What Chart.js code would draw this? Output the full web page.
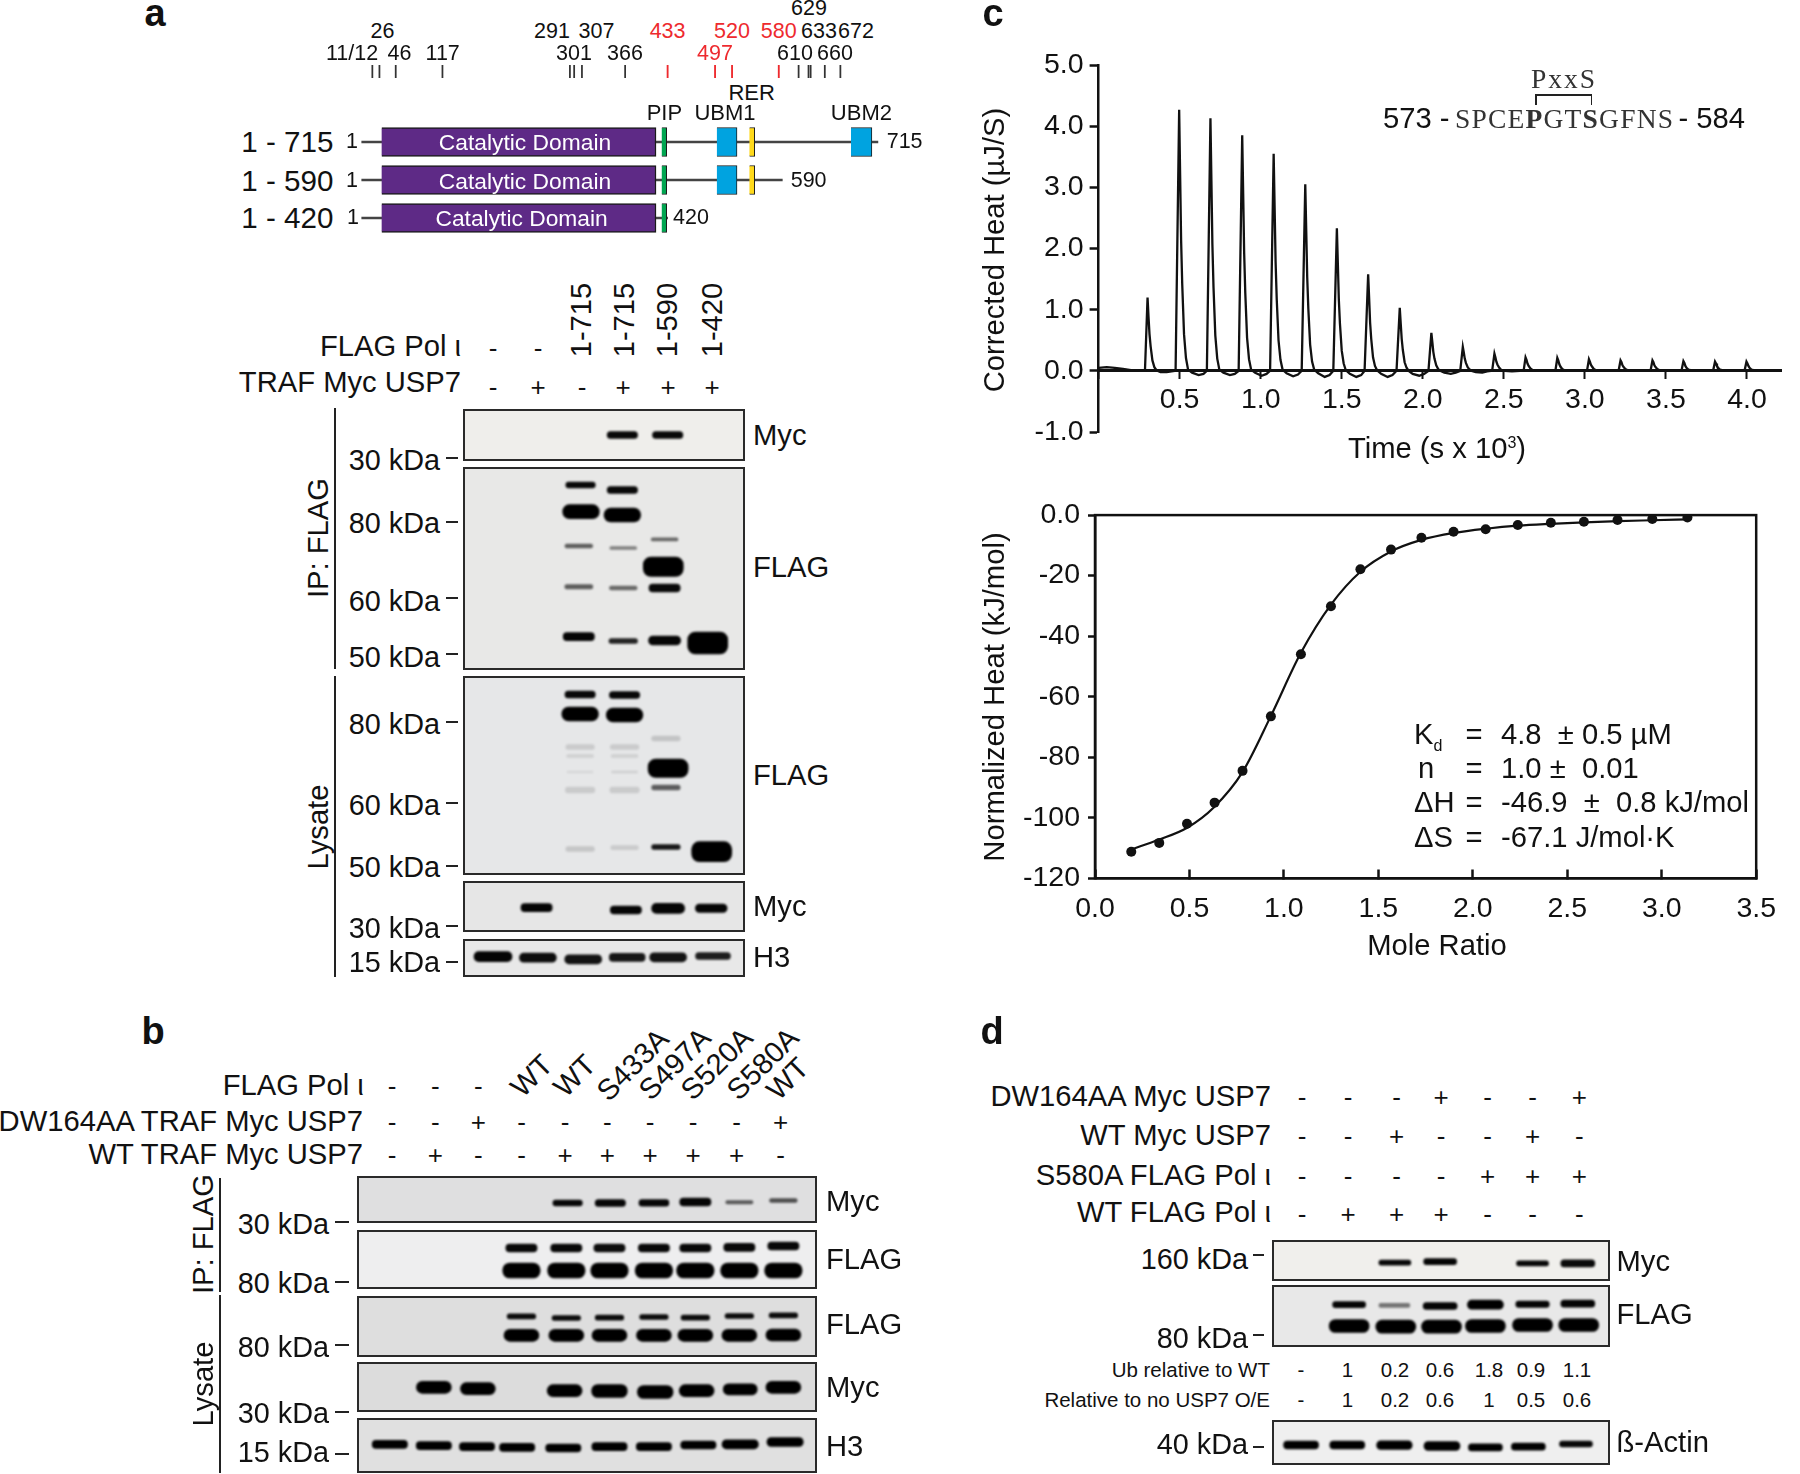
<!DOCTYPE html>
<html>
<head>
<meta charset="utf-8">
<script src="https://cdn.jsdelivr.net/npm/chart.js@4"></script>
<style>
html,body{margin:0;padding:0;background:#fff;}
#page{position:relative;width:1800px;height:1474px;overflow:hidden;font-family:"Liberation Sans",Arial,sans-serif;color:#111;}
#page canvas{position:absolute;}
.t{position:absolute;white-space:pre;line-height:1;}
.r{position:absolute;background:#222;}
sup,sub{font-size:55%;line-height:0;}
</style>
</head>
<body>
<div id="page"></div>
<script>
'use strict';

// ---- panel c, thermogram: [time, heat]
let thermogram = [
  [0,0.05],[0.05,0.06],[0.1,0.05],[0.15,0.03],[0.2,0.01],[0.25,0],[0.286,0],
  [.302,1.2],[.308,.88],[.314,.6],[.321,.4],[.332,.17],[.344,.06],[.357,.01],[.382,-.02],[.42,-.02],[.45,-.01],[.475,0],
  [.497,4.27],[.503,3.2],[.509,2.14],[.516,1.41],[.527,.6],[.539,.21],[.552,.02],[.577,-.03],[.617,-.07],[.647,-.05],[.668,0],
  [.69,4.13],[.696,3.1],[.702,2.07],[.709,1.36],[.72,.58],[.732,.2],[.745,.02],[.77,-.03],[.81,-.07],[.84,-.05],[.864,0],
  [.886,3.85],[.892,2.89],[.898,1.93],[.905,1.27],[.916,.54],[.928,.19],[.941,.02],[.966,-.03],[1.006,-.08],[1.036,-.05],[1.058,0],
  [1.08,3.55],[1.086,2.66],[1.092,1.78],[1.099,1.17],[1.11,.5],[1.122,.18],[1.135,.02],[1.16,-.04],[1.2,-.09],[1.23,-.06],[1.253,0],
  [1.275,3.05],[1.281,2.29],[1.287,1.53],[1.294,1.01],[1.305,.43],[1.317,.15],[1.33,.02],[1.355,-.04],[1.395,-.1],[1.425,-.07],[1.448,0],
  [1.47,2.33],[1.476,1.75],[1.482,1.17],[1.489,.77],[1.5,.33],[1.512,.12],[1.525,.01],[1.55,-.05],[1.59,-.1],[1.62,-.07],[1.641,0],
  [1.663,1.58],[1.669,1.19],[1.675,.79],[1.682,.52],[1.693,.22],[1.705,.08],[1.718,.01],[1.743,-.05],[1.783,-.1],[1.813,-.07],[1.838,0],
  [1.858,1.03],[1.864,.77],[1.87,.52],[1.877,.34],[1.888,.14],[1.9,.05],[1.913,0],[1.938,-.05],[1.978,-.08],[2.008,-.05],[2.035,0],
  [2.053,.62],[2.059,.47],[2.065,.31],[2.072,.2],[2.083,.09],[2.095,.03],[2.108,0],[2.133,-.03],[2.173,-.05],[2.203,-.03],[2.231,0],
  [2.247,.39],[2.253,.3],[2.259,.2],[2.266,.13],[2.277,.06],[2.289,.02],[2.302,0],[2.327,-.02],[2.367,-.03],[2.397,-.01],[2.428,0],
  [2.442,.28],[2.448,.22],[2.454,.15],[2.461,.1],[2.472,.05],[2.486,.01],[2.505,0],[2.55,-.01],[2.6,0],[2.622,0],
  [2.634,.22],[2.64,.18],[2.646,.12],[2.653,.08],[2.664,.04],[2.678,.01],[2.697,0],[2.75,0],[2.818,0],
  [2.83,.21],[2.836,.17],[2.842,.11],[2.849,.07],[2.86,.03],[2.874,.01],[2.893,0],[2.95,0],[3.013,0],
  [3.025,.19],[3.031,.15],[3.037,.1],[3.044,.07],[3.055,.03],[3.069,.01],[3.088,0],[3.15,0],[3.208,0],
  [3.22,.17],[3.226,.14],[3.232,.09],[3.239,.06],[3.25,.03],[3.264,.01],[3.283,0],[3.35,0],[3.405,0],
  [3.417,.17],[3.423,.14],[3.429,.09],[3.436,.06],[3.447,.03],[3.461,.01],[3.48,0],[3.54,0],[3.596,0],
  [3.608,.16],[3.614,.13],[3.62,.08],[3.627,.05],[3.638,.02],[3.652,.01],[3.671,0],[3.73,0],[3.791,0],
  [3.803,.15],[3.809,.12],[3.815,.08],[3.822,.05],[3.833,.02],[3.847,.01],[3.866,0],[3.93,0],[3.985,0],
  [3.997,.15],[4.003,.12],[4.009,.08],[4.016,.05],[4.027,.02],[4.041,.01],[4.06,0],[4.1,.01],[4.21,0]
];

// ---- panel c, binding isotherm
let moleRatio = [0.192,0.340,0.487,0.633,0.781,0.931,1.090,1.249,1.405,1.567,1.728,1.898,2.068,2.238,2.413,2.588,2.766,2.950,3.136];
let normHeat = [-111.2,-108.3,-102,-95,-84.5,-66.5,-46,-30.1,-17.9,-11.4,-7.5,-5.5,-4.7,-3.3,-2.5,-2.2,-1.6,-1.3,-0.8];
let fitRatio = [0.19,0.34,0.49,0.63,0.78,0.93,1.09,1.25,1.405,1.567,1.728,1.9,2.07,2.24,2.41,2.59,2.77,2.95,3.136];
let fitHeat = [-110.5,-107.2,-103.2,-96.5,-85,-66.5,-45.5,-29.5,-18.7,-12,-8.2,-5.9,-4.5,-3.5,-2.9,-2.4,-2,-1.7,-1.4];

// ---- panel a, domain map (position along the protein as drawn)
let constructs = ['1 - 715','1 - 590','1 - 420'];
let backbone = [[-3,726],[-3,591],[-3,429]];
let catalytic = [[25,412.6],[25,412.6],[25,412.6]];
let pip = [[420.6,427.7],[420.6,427.7],[420.6,427.7]];
let ubm1 = [[498.5,527],[498.5,527],null];
let rer = [[544.5,552],[544.5,552],null];
let ubm2 = [[688,717.5],null,null];
let blackSites = [12,22,45,111,291,297,308,369,614,628,631,651,673];
let redSites = [429,496,520,586];

// ---- blots: each band is [lane, top, bottom, signal 0-1], migration measured from the top of the panel
let aIpMyc = [[3.94,22.5,29.5,.97],[4.97,22.5,29.5,.97]];
let aIpFlag = [[2.99,15,21,.97],[3,37.7,51.7,1],[2.95,77,81,.6],[2.95,117.5,122,.6],[2.95,165.7,173.7,.98],
  [3.94,19.5,26.5,.97],[3.94,41,55,1],[3.96,79.5,82.5,.45],[3.96,119,123,.55],[3.96,171.5,176.5,.85],
  [4.9,70.8,73.8,.55],[4.87,90,109.5,1],[4.9,117,125,.96],[4.9,169,178,.98],[5.88,165,187,1]];
let aLysFlag = [[2.98,15,22,.97],[2.98,31,45,1],[2.98,68.5,73.5,.12],[2.98,78.5,81.5,.1],[2.98,95,97,.07],[2.98,111,117,.12],[2.98,170.5,175.5,.14],
  [3.99,15.5,22.5,.97],[3.99,32,46,1],[3.99,68.5,73.5,.12],[3.99,78.5,81.5,.1],[3.99,95,97,.1],[3.99,111,117,.12],[3.99,169.7,173.7,.12],
  [4.93,60,65,.15],[4.98,83,101.5,1],[4.93,109,114,.6],[4.93,168.5,173.5,.9],[5.97,165.7,185.7,1]];
let aLysMyc = [[1.99,22.7,30.7,.98],[4.02,25,33,.98],[4.98,22.3,32.3,.98],[5.96,23,31.5,.98]];
let aH3 = [[1,12.7,22.7,.98],[2.02,14.2,23.2,.95],[3.05,15.8,24.8,.92],[4.05,14.3,22.3,.9],[4.98,13.8,22.8,.92],[6,13.5,20.5,.88]];

let bIpMyc = [[5.07,24,30,.97],[6.06,23.5,30.5,.97],[7.07,23.7,30.2,.97],[8.03,22,30,.98],[9.05,24.5,28,.6],[10.07,22.5,26.5,.65]];
let bIpFlag = [[4,14,22,.97],[5.04,14,22,.97],[6.04,14,22,.95],[7.07,14,22,.97],[8.03,14,22,.97],[9.05,13.3,21.3,.97],[10.07,12,20,.97],
  [4,33,48,1],[5.04,33,48,1],[6.04,33,48,1],[7.07,33,48,1],[8.03,33,48,1],[9.05,33,48,1],[10.07,33,48,1]];
let bLysFlag = [[4,17.8,22.8,.95],[5.04,19.5,24.5,.95],[6.04,19.1,24.1,.95],[7.07,18.5,23.5,.95],[8.03,19.1,24.1,.95],[9.05,17.5,22.5,.95],[10.07,16.8,21.8,.95],
  [4,33.3,45.3,1],[5.04,33.3,45.3,1],[6.04,33.3,45.3,1],[7.07,33.3,45.3,1],[8.03,33.3,45.3,1],[9.05,33.3,45.3,1],[10.07,33,45,1]];
let bLysMyc = [[1.97,19.3,31.3,1],[2.99,20.7,32.7,1],[5,22.7,34.7,1],[6.04,22.5,35.5,1],[7.1,23.5,36.5,1],[8.06,22.7,34.7,1],[9.07,21.8,32.8,1],[10.07,19.3,31.3,1]];
let bH3 = [[.95,22.3,30.3,1],[1.97,23.7,31.7,1],[2.97,24.7,32.7,1],[3.9,25.3,33.3,1],[4.97,26,34,1],[6.04,24.7,32.7,1],[7.07,24.7,32.7,1],[8.1,23,31,1],[9.07,21.8,30.8,1],[10.11,19.5,28.5,1]];

let dMyc = [[3.01,20.2,25.2,.97],[3.99,18.7,24.7,.98],[5.99,20.8,25.8,.97],[6.97,19.8,26.8,.96]];
let dFlag = [[2.02,16.7,22.7,.98],[3,18.3,22.3,.5],[3.99,17.5,24.5,.98],[4.97,15.2,24.2,1],[5.99,16,22.5,.98],[6.97,15.2,22.2,.98],
  [2.02,34.5,47.5,1],[3.03,35.2,48.2,1],[4.02,35.2,48.2,1],[4.97,34.5,47.5,1],[5.99,33.5,46.5,1],[6.99,33.5,46.5,1]];
let dActin = [[.98,21,29,1],[1.98,21,29,1],[3,20.8,29.3,1],[4.03,21.5,30.5,1],[4.97,23.8,30.8,1],[5.9,23.2,30.2,1],[6.93,21,27,.97]];

// ---- labels
let panelLetters = ['a','b','c','d'];
let plusMinusA = [['-','-'],['-','+','-','+','+','+']];
let plusMinusB = [['-','-','-'],['-','-','+','-','-','-','-','-','-','+'],['-','+','-','-','+','+','+','+','+','-']];
let plusMinusD = [['-','-','-','+','-','-','+'],['-','-','+','-','-','+','-'],['-','-','-','-','+','+','+'],['-','+','+','+','-','-','-']];
let ubRelWt = ['-','1','0.2','0.6','1.8','0.9','1.1'];
let ubRelNone = ['-','1','0.2','0.6','1','0.5','0.6'];

Chart.defaults.animation = false;
Chart.defaults.font.family = '"Liberation Sans", Arial, sans-serif';
Chart.defaults.plugins.legend.display = false;
Chart.defaults.plugins.tooltip.enabled = false;

const page = document.getElementById('page');

function txt(s, x, y, o) {
  o = o || {};
  let d = document.createElement('span');
  d.className = 't';
  d.innerHTML = s;
  let ax = o.a === 'r' ? -100 : (o.a === 'c' ? -50 : 0);
  d.style.left = x + 'px';
  d.style.top = y + 'px';
  d.style.fontSize = (o.size || 29.2) + 'px';
  d.style.transform = 'translate(' + ax + '%,-50%)' + (o.rot ? ' rotate(' + o.rot + 'deg)' : '');
  if (o.color) d.style.color = o.color;
  if (o.bold) d.style.fontWeight = 'bold';
  if (o.font) d.style.fontFamily = o.font;
  if (o.track) d.style.letterSpacing = o.track + 'px';
  page.appendChild(d);
}

function rule(x, y, w, h) {
  let d = document.createElement('div');
  d.className = 'r';
  d.style.cssText += 'left:' + x + 'px;top:' + y + 'px;width:' + w + 'px;height:' + h + 'px;';
  page.appendChild(d);
}

function newCanvas(x, y, w, h) {
  let c = document.createElement('canvas');
  c.width = w;
  c.height = h;
  c.style.left = x + 'px';
  c.style.top = y + 'px';
  c.style.width = w + 'px';
  c.style.height = h + 'px';
  page.appendChild(c);
  return c;
}

const softBands = {
  id: 'softBands',
  beforeDatasetsDraw(c) { c.ctx.save(); c.ctx.filter = 'blur(1.2px)'; },
  afterDatasetsDraw(c) { c.ctx.restore(); }
};

// lane0 = pixel of lane 1, step = pixels between lanes
function blot(bands, box, lane0, step, bg, wide) {
  let c = newCanvas(box[0], box[1], box[2], box[3]);
  c.style.background = bg;
  c.style.outline = '2.5px solid #2a2a2a';
  c.style.outlineOffset = '-2px';
  let sets = bands.map(function (b) {
    let thick = b[2] - b[1];
    return {
      data: [{x: b[0], y: [b[1], b[2]]}],
      backgroundColor: 'rgba(0,0,0,' + b[3] + ')',
      barThickness: Math.min(40, 24 + thick * 0.9) * (wide || 1),
      borderRadius: Math.min(thick / 2, 8),
      borderSkipped: false,
      grouped: false
    };
  });
  new Chart(c, {
    type: 'bar',
    data: {datasets: sets},
    options: {
      responsive: false,
      layout: {autoPadding: false},
      scales: {
        x: {type: 'linear', offset: false, display: false, min: (box[0] - lane0) / step + 1, max: (box[0] + box[2] - lane0) / step + 1},
        y: {type: 'linear', display: false, reverse: true, min: 0, max: box[3]}
      }
    },
    plugins: [softBands]
  });
}

// ---- panel a: domain map
let domainSets = [
  {label: 'PIP', data: pip, backgroundColor: '#00a651', borderColor: '#1a1a1a', borderWidth: 1, barThickness: 29},
  {label: 'Catalytic Domain', data: catalytic, backgroundColor: '#5e2a86', borderColor: '#1a1a1a', borderWidth: 1.5, barThickness: 29},
  {label: 'UBM1', data: ubm1, backgroundColor: '#00a3e0', borderColor: '#1a1a1a', borderWidth: 1, barThickness: 29},
  {label: 'RER', data: rer, backgroundColor: '#ffd91a', borderColor: '#1a1a1a', borderWidth: 1, barThickness: 29},
  {label: 'UBM2', data: ubm2, backgroundColor: '#00a3e0', borderColor: '#1a1a1a', borderWidth: 1, barThickness: 29},
  {label: 'backbone', data: backbone, backgroundColor: '#444', barThickness: 2}
];
domainSets.forEach(function (s) { s.grouped = false; });
new Chart(newCanvas(340, 122.5, 560, 114), {
  type: 'bar',
  data: {labels: constructs, datasets: domainSets},
  options: {
    indexAxis: 'y',
    responsive: false,
    layout: {autoPadding: false},
    scales: {
      x: {type: 'linear', display: false, min: -33.7, max: 757.2},
      y: {type: 'category', display: false}
    }
  }
});

new Chart(newCanvas(340, 65, 560, 13), {
  type: 'bar',
  data: {datasets: [
    {data: blackSites.map(function (s) { return {x: s, y: [0, 1]}; }), backgroundColor: '#333', barThickness: 1.1, grouped: false},
    {data: redSites.map(function (s) { return {x: s, y: [0, 1]}; }), backgroundColor: '#ee2a2e', barThickness: 1.2, grouped: false}
  ]},
  options: {
    responsive: false,
    layout: {autoPadding: false},
    scales: {
      x: {type: 'linear', offset: false, display: false, min: -33.7, max: 757.2},
      y: {type: 'linear', display: false, min: 0, max: 1}
    }
  }
});

let siteLabels = [
  ['629',809,9],['26',382.5,32],['291',552,32],['307',596.5,32],['433',667.6,32,1],['520',732,32,1],['580',778.8,32,1],['633',819,32],['672',856,32],
  ['11/12',352,54],['46',399.5,54],['117',442.7,54],['301',574,54],['366',625,54],['497',715,54,1],['610',795,54],['660',835,54]
];
siteLabels.forEach(function (l) { txt(l[0], l[1], l[2], {a: 'c', size: 21.5, color: l[3] ? '#ee2a2e' : '#111'}); });
txt('RER', 751.7, 92.7, {a: 'c', size: 22});
txt('PIP', 664.4, 113, {a: 'c', size: 22});
txt('UBM1', 725, 113, {a: 'c', size: 22});
txt('UBM2', 861.4, 113, {a: 'c', size: 22});
constructs.forEach(function (n, i) {
  let cy = [141.7, 180.7, 217.7][i];
  txt(n, 333.5, cy, {a: 'r', size: 29.6});
  txt('1', 352 + (i === 2 ? 1 : 0), cy, {a: 'c', size: 21.5});
  txt('Catalytic Domain', i === 2 ? 521.6 : 525, cy, {a: 'c', size: 22.8, color: '#fff'});
});
txt('715', 886.7, 141.7, {size: 21.5});
txt('590', 790.7, 180.7, {size: 21.5});
txt('420', 673, 218, {size: 21.5});

// ---- panel a: blots
let aLanes = [493, 538, 582, 623, 668, 712];
txt('FLAG Pol ι', 461, 346.7, {a: 'r'});
txt('TRAF Myc USP7', 461, 383, {a: 'r'});
plusMinusA[0].forEach(function (s, i) { txt(s, aLanes[i], 348, {a: 'c', size: 26}); });
plusMinusA[1].forEach(function (s, i) { txt(s, aLanes[i], 386.7, {a: 'c', size: 26}); });
['1-715', '1-715', '1-590', '1-420'].forEach(function (s, i) {
  txt(s, [582, 625.4, 667.7, 713][i], 320, {a: 'c', rot: -90});
});
blot(aIpMyc, [463, 409, 282, 52], 493, 44, '#efeeeb');
blot(aIpFlag, [463, 467, 282, 203], 493, 44, '#e8e8e7');
blot(aLysFlag, [463, 676, 282, 199], 493, 44, '#e6e7e8');
blot(aLysMyc, [463, 881, 282, 51], 493, 44, '#e6e6e6');
blot(aH3, [463, 939, 282, 38], 493, 44, '#e8e8e8', 1.15);
let aKda = [['30 kDa',460,458.3],['80 kDa',523,521.7],['60 kDa',600.7,598],['50 kDa',656.7,654],['80 kDa',724,721.7],['60 kDa',805,803],['50 kDa',867,865.7],['30 kDa',928,925.7],['15 kDa',961.7,961.7]];
aKda.forEach(function (k) { txt(k[0], 440, k[1], {a: 'r', size: 28.8}); rule(445.5, k[2] - 1, 12.5, 2); });
rule(334, 408, 2, 261);
rule(334, 675.7, 2, 301);
txt('IP: FLAG', 319, 538, {a: 'c', rot: -90});
txt('Lysate', 319, 826.7, {a: 'c', rot: -90});
[['Myc',436],['FLAG',568],['FLAG',776],['Myc',907],['H3',958]].forEach(function (l) { txt(l[0], 753, l[1]); });

// ---- panel b: blots
let bLanes = [392, 435.4, 478.3, 521.7, 565, 607.4, 650.2, 693, 736.5, 780.5];
txt('FLAG Pol ι', 363.8, 1086, {a: 'r'});
txt('DW164AA TRAF Myc USP7', 363, 1121.5, {a: 'r'});
txt('WT TRAF Myc USP7', 363, 1155, {a: 'r'});
plusMinusB[0].forEach(function (s, i) { txt(s, bLanes[i], 1086, {a: 'c', size: 26}); });
plusMinusB[1].forEach(function (s, i) { txt(s, bLanes[i], 1122, {a: 'c', size: 26}); });
plusMinusB[2].forEach(function (s, i) { txt(s, bLanes[i], 1155, {a: 'c', size: 26}); });
[['WT',532,1076],['WT',575,1076],['S433A',633,1064.5],['S497A',675,1064],['S520A',717,1064],['S580A',763,1064],['WT',787.5,1079]].forEach(function (l) {
  txt(l[0], l[1], l[2], {a: 'c', rot: -45});
});
blot(bIpMyc, [357, 1176, 460, 47], 392, 43.15, '#dfdfe0');
blot(bIpFlag, [357, 1230, 460, 59], 392, 43.15, '#eeeeef');
blot(bLysFlag, [357, 1296, 460, 61], 392, 43.15, '#dedede');
blot(bLysMyc, [357, 1362, 460, 50], 392, 43.15, '#dcdcdc');
blot(bH3, [357, 1418, 460, 55], 392, 43.15, '#e0e0e0', 1.13);
[['30 kDa',1224,1222],['80 kDa',1282.7,1281.7],['80 kDa',1347,1345],['30 kDa',1412.7,1411.7],['15 kDa',1451.7,1454]].forEach(function (k) {
  txt(k[0], 329, k[1], {a: 'r', size: 28.8});
  rule(334.5, k[2] - 1, 14.5, 2);
});
rule(219, 1178, 2, 113.7);
rule(219, 1295, 2, 177.7);
txt('IP: FLAG', 203.6, 1234, {a: 'c', rot: -90});
txt('Lysate', 203.6, 1384, {a: 'c', rot: -90});
[['Myc',1201.7],['FLAG',1260],['FLAG',1325],['Myc',1388],['H3',1447]].forEach(function (l) { txt(l[0], 826, l[1]); });

// ---- panel d: blots
let dLanes = [1302, 1348, 1396.7, 1441, 1487.7, 1532.7, 1579.3];
['DW164AA Myc USP7', 'WT Myc USP7', 'S580A FLAG Pol ι', 'WT FLAG Pol ι'].forEach(function (s, i) {
  txt(s, 1271, [1096.7, 1136, 1175.7, 1212.7][i], {a: 'r'});
});
plusMinusD.forEach(function (row, r) {
  row.forEach(function (s, i) { txt(s, dLanes[i], [1096.7, 1136, 1176, 1214][r], {a: 'c', size: 26}); });
});
blot(dMyc, [1272, 1240, 338, 41], 1302, 46.2, '#f0efec', 1.12);
blot(dFlag, [1272, 1285, 338, 62], 1302, 46.2, '#e8e8e8', 1.12);
blot(dActin, [1272, 1420, 338, 45], 1302, 46.2, '#efefef', 1.12);
[['160 kDa',1259,1255],['80 kDa',1338,1335],['40 kDa',1444,1447]].forEach(function (k) {
  txt(k[0], 1248, k[1], {a: 'r', size: 28.8});
  rule(1253, k[2] - 1, 11, 2);
});
[['Myc',1261.7],['FLAG',1315],['ß-Actin',1443]].forEach(function (l) { txt(l[0], 1616.5, l[1]); });
txt('Ub relative to WT', 1270, 1370, {a: 'r', size: 20.5});
txt('Relative to no USP7 O/E', 1270, 1400, {a: 'r', size: 20.5});
let ubX = [1301, 1347.5, 1395, 1440, 1489, 1531, 1577];
ubRelWt.forEach(function (s, i) { txt(s, ubX[i], 1370, {a: 'c', size: 20.5}); });
ubRelNone.forEach(function (s, i) { txt(s, ubX[i], 1400, {a: 'c', size: 20.5}); });

// ---- panel c: thermogram
new Chart(newCanvas(985, 40, 815, 430), {
  type: 'line',
  data: {datasets: [{
    data: thermogram.map(function (p) { return {x: p[0], y: p[1]}; }),
    borderColor: '#111', borderWidth: 2.3, pointRadius: 0, tension: 0
  }]},
  options: {
    responsive: false,
    layout: {autoPadding: false, padding: {left: 0, right: 19, top: 25, bottom: 38}},
    scales: {
      x: {
        type: 'linear', position: {y: 0}, min: 0, max: 4.21,
        grid: {drawOnChartArea: false, tickLength: 7, tickWidth: 2, tickColor: '#111'},
        border: {color: '#111', width: 3},
        ticks: {stepSize: 0.5, includeBounds: false, padding: 5, maxRotation: 0, color: '#111', font: {size: 28.5},
          callback: function (v) { return v === 0 ? '' : v.toFixed(1); }}
      },
      y: {
        type: 'linear', position: 'left', min: -1, max: 5,
        afterFit: function (s) { s.width = 113.6; },
        grid: {drawOnChartArea: false, tickLength: 9, tickWidth: 2.5, tickColor: '#111'},
        border: {color: '#111', width: 2.5},
        ticks: {stepSize: 1, padding: 6, color: '#111', font: {size: 28.5},
          callback: function (v) { return v.toFixed(1); }}
      }
    }
  }
});

// ---- panel c: isotherm
const frame = {
  id: 'frame',
  afterDraw(c) {
    let a = c.chartArea;
    c.ctx.save();
    c.ctx.strokeStyle = '#111';
    c.ctx.lineWidth = 2.5;
    c.ctx.strokeRect(a.left, a.top, a.right - a.left, a.bottom - a.top);
    c.ctx.restore();
  }
};
new Chart(newCanvas(985, 490, 815, 490), {
  type: 'line',
  data: {datasets: [
    {data: moleRatio.map(function (x, i) { return {x: x, y: normHeat[i]}; }),
      showLine: false, pointRadius: 5, pointBackgroundColor: '#111', pointBorderWidth: 0},
    {data: fitRatio.map(function (x, i) { return {x: x, y: fitHeat[i]}; }),
      borderColor: '#111', borderWidth: 2.2, pointRadius: 0, cubicInterpolationMode: 'monotone'}
  ]},
  options: {
    responsive: false,
    layout: {autoPadding: false, padding: {left: 0, right: 20.4, top: 23.3, bottom: 101.7}},
    scales: {
      x: {
        type: 'linear', position: {y: -120}, min: 0, max: 3.5,
        grid: {drawOnChartArea: false, tickLength: -10, tickWidth: 2.5, tickColor: '#111'},
        border: {color: '#111', width: 2.5},
        ticks: {stepSize: 0.5, padding: 24, maxRotation: 0, color: '#111', font: {size: 28.5},
          callback: function (v) { return v.toFixed(1); }}
      },
      y: {
        type: 'linear', position: 'left', min: -120, max: 0,
        afterFit: function (s) { s.width = 110; },
        grid: {drawOnChartArea: false, tickLength: 7, tickWidth: 2.5, tickColor: '#111'},
        border: {color: '#111', width: 2.5},
        ticks: {stepSize: 20, padding: 8, color: '#111', font: {size: 28.5},
          callback: function (v) { return v === 0 ? '0.0' : String(v); }}
      }
    }
  },
  plugins: [frame]
});

// ---- panel c: text
const slab = '"Liberation Serif", serif';
txt('Corrected Heat (µJ/S)', 995, 250, {a: 'c', rot: -90});
txt('Time (s x 10<sup>3</sup>)', 1437, 449, {a: 'c'});
txt('Normalized Heat (kJ/mol)', 995, 696.7, {a: 'c', rot: -90});
txt('Mole Ratio', 1437, 945.7, {a: 'c'});
txt('PxxS', 1564, 79, {a: 'c', size: 27.5, font: slab, color: '#333', track: 2});
rule(1535, 94, 57, 1.8);
rule(1535, 94, 1.8, 11);
rule(1590.5, 94, 1.8, 11);
txt('573 -', 1383, 119);
txt('SPCE<b>P</b>GT<b>S</b>GFNS', 1455, 119, {size: 27.5, font: slab, color: '#333', track: 1.2});
txt('- 584', 1745, 119, {a: 'r'});
[['K<sub>d</sub>','4.8  ± 0.5 µM',735,1414],['n','1.0 ±  0.01',769,1418],['ΔH','-46.9  ±  0.8 kJ/mol',803,1414],['ΔS','-67.1 J/mol·K',838,1414]].forEach(function (r) {
  txt(r[0], r[3], r[2]);
  txt('=', 1474, r[2], {a: 'c'});
  txt(r[1], 1501, r[2]);
});

txt(panelLetters[0], 155, 13, {a: 'c', size: 38, bold: true});
txt(panelLetters[1], 153, 1031, {a: 'c', size: 38, bold: true});
txt(panelLetters[2], 993, 13, {a: 'c', size: 38, bold: true});
txt(panelLetters[3], 992, 1031, {a: 'c', size: 38, bold: true});
</script>
</body>
</html>
